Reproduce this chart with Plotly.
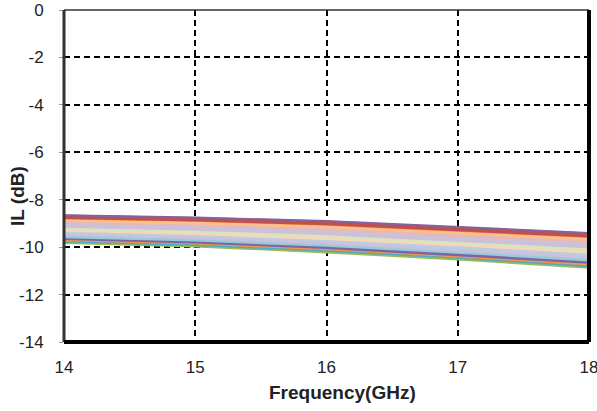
import plotly.graph_objects as go

freq = [14, 15, 16, 17, 18]

s01 = [-8.65, -8.75, -8.90, -9.15, -9.40]
s02 = [-8.70, -8.80, -8.95, -9.20, -9.46]
s03 = [-8.74, -8.85, -9.00, -9.26, -9.52]
s04 = [-8.79, -8.89, -9.06, -9.31, -9.57]
s05 = [-8.86, -8.97, -9.13, -9.39, -9.66]
s06 = [-8.94, -9.05, -9.23, -9.49, -9.76]
s07 = [-9.02, -9.13, -9.32, -9.58, -9.86]
s08 = [-9.11, -9.23, -9.42, -9.69, -9.98]
s09 = [-9.20, -9.32, -9.52, -9.80, -10.10]
s10 = [-9.28, -9.41, -9.62, -9.89, -10.20]
s11 = [-9.36, -9.49, -9.71, -9.99, -10.30]
s12 = [-9.45, -9.59, -9.81, -10.10, -10.42]
s13 = [-9.55, -9.69, -9.91, -10.20, -10.53]
s14 = [-9.63, -9.77, -10.00, -10.30, -10.63]
s15 = [-9.69, -9.83, -10.07, -10.37, -10.71]
s16 = [-9.74, -9.89, -10.13, -10.43, -10.78]
s17 = [-9.80, -9.95, -10.20, -10.50, -10.85]

series = [s17, s16, s15, s14, s13, s12, s11, s10, s09, s08, s07, s06, s05, s04, s03, s02, s01]
colors = ["#9BBB59", "#4BACC6", "#F79646", "#8064A2", "#93CDDD", "#CCC1DA", "#B9CDE5",
          "#FCD5B5", "#D7E4BD", "#CCC1DA", "#CCC1DA", "#E6B9B8", "#FAC090", "#F79646",
          "#C0504D", "#C0504D", "#8064A2"]
widths = [3, 3, 3, 3.5, 3.5, 3.5, 3.5, 3.5, 3.5, 3.5, 3.5, 3.5, 3.5, 2, 3.5, 3.5, 2]

y_ticks = [0, -2, -4, -6, -8, -10, -12, -14]
x_ticks = [14, 15, 16, 17, 18]

fig = go.Figure()
for vals, col, w in zip(series, colors, widths):
    fig.add_trace(go.Scatter(x=freq, y=vals, mode="lines",
                             line=dict(color=col, width=w), showlegend=False,
                             hoverinfo="skip"))

font = dict(family="Liberation Sans, Arial, sans-serif", size=17, color="#222")

fig.update_layout(
    width=597, height=411,
    margin=dict(l=64, r=8, t=10, b=69, autoexpand=False),
    paper_bgcolor="white", plot_bgcolor="white",
    font=font,
    xaxis=dict(range=[14, 18], tickvals=x_ticks, ticktext=[str(v) for v in x_ticks],
               showgrid=True, gridcolor="black", gridwidth=1.5, griddash="6px,4px",
               zeroline=False, showline=False, ticks="", ticklabelstandoff=13,
               ticklabeloverflow="allow", automargin=False),
    yaxis=dict(range=[-14, 0], tickvals=y_ticks, ticktext=[str(v) for v in y_ticks],
               showgrid=True, gridcolor="black", gridwidth=1.5, griddash="6px,4px",
               zeroline=False, showline=False, ticks="outside", ticklen=4,
               tickcolor="#999", ticklabelstandoff=12, ticklabeloverflow="allow",
               automargin=False),
)

fig.add_annotation(text="<b>Frequency(GHz)</b>", xref="paper", yref="paper",
                   x=(342 - 64) / 525, y=-(392 - 342) / 332, showarrow=False,
                   xanchor="center", yanchor="middle", font=dict(size=19, color="#222"))
fig.add_annotation(text="<b>IL (dB)</b>", xref="paper", yref="paper",
                   x=-(64 - 17) / 525, y=(342 - 196) / 332, showarrow=False, textangle=-90,
                   xanchor="center", yanchor="middle", font=dict(size=19, color="#222"))

# frame
fig.add_shape(type="line", xref="paper", yref="paper", x0=0, x1=1, y0=1, y1=1,
              line=dict(color="#333", width=1.5), layer="above")
fig.add_shape(type="line", xref="paper", yref="paper", x0=0, x1=0, y0=0, y1=1,
              line=dict(color="#333", width=3), layer="above")
fig.add_shape(type="line", xref="paper", yref="paper", x0=1, x1=1, y0=0, y1=1,
              line=dict(color="black", width=4), layer="above")
fig.add_shape(type="line", xref="paper", yref="paper", x0=0, x1=1, y0=0, y1=0,
              line=dict(color="black", width=4), layer="above")

fig.write_html("out.html")
